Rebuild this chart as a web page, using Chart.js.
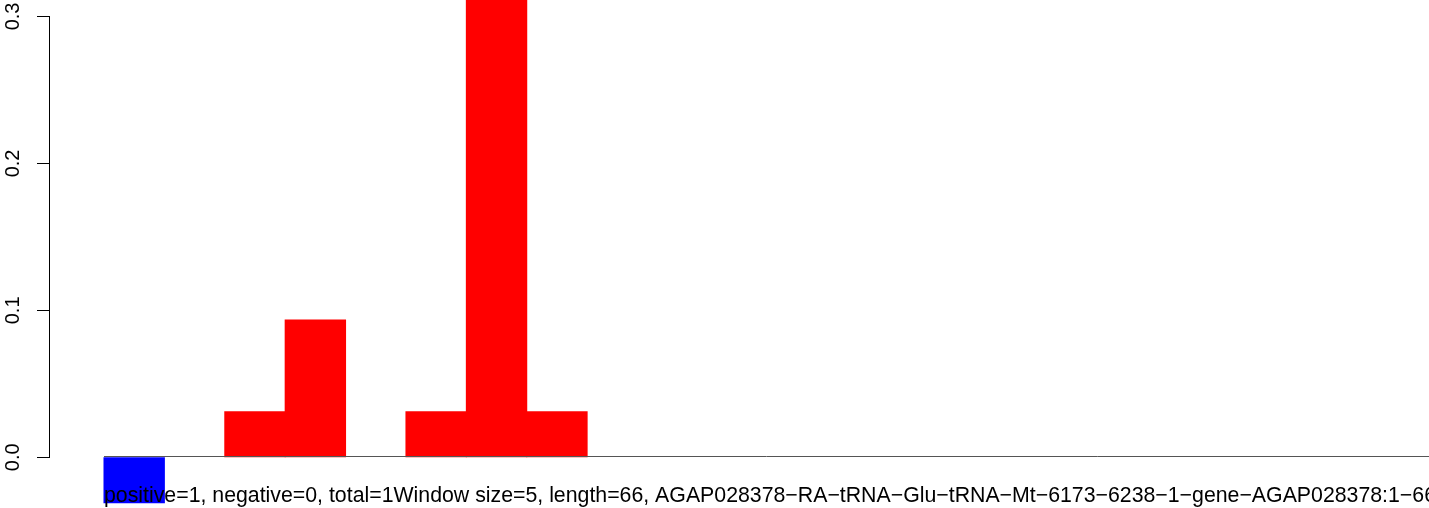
<!DOCTYPE html>
<html>
<head>
<meta charset="utf-8">
<script src="https://cdn.jsdelivr.net/npm/chart.js@4"></script>
<style>
  html, body { margin: 0; padding: 0; background: #fff; overflow: hidden; }
  #wrap { width: 1429px; height: 508px; position: relative; }
</style>
</head>
<body>
<div id="wrap"><canvas id="grafico"></canvas></div>
<script>
// bins of the window plot (left edge of each bin)
const bins = [0, 1, 2, 3, 4, 5, 6, 7, 8, 9, 10, 11, 12, 13, 14, 15, 16, 17, 18, 19, 20, 21];
// values per bin (negative = blue, positive = red)
const values = [-0.031, 0, 0.031, 0.0935, 0, 0.031, 0.34, 0.031, 0, 0, 0, 0, 0, 0, 0, 0, 0, 0, 0, 0, 0, 0];
const yTicks = [0, 0.1, 0.2, 0.3];
const caption = 'positive=1, negative=0, total=1Window size=5, length=66, AGAP028378\u2212RA\u2212tRNA\u2212Glu\u2212tRNA\u2212Mt\u22126173\u22126238\u22121\u2212gene\u2212AGAP028378:1\u221266';

const fuente = '"Liberation Sans", Arial, sans-serif';

// eje Y de R: linea solo entre 0 y 0.3, linea gris en cero y texto abajo
const extras = {
  id: 'extras',
  afterDatasetsDraw(chart) {
    const { ctx, scales: { x, y }, chartArea } = chart;
    ctx.save();
    ctx.strokeStyle = '#555555';
    ctx.lineWidth = 1;
    const y0 = Math.round(y.getPixelForValue(0)) - 0.5;
    ctx.beginPath();
    ctx.moveTo(x.getPixelForValue(0), y0);
    ctx.lineTo(chartArea.right, y0);
    ctx.stroke();
    ctx.restore();
  },
  afterDraw(chart) {
    const { ctx, scales: { x, y } } = chart;
    ctx.save();
    ctx.strokeStyle = '#000';
    ctx.lineWidth = 1;
    const ax = Math.round(y.right) - 0.5;
    ctx.beginPath();
    ctx.moveTo(ax, Math.round(y.getPixelForValue(0.3)));
    ctx.lineTo(ax, Math.round(y.getPixelForValue(0)));
    ctx.stroke();
    ctx.fillStyle = '#000';
    ctx.font = '21.3px ' + fuente;
    ctx.textBaseline = 'alphabetic';
    ctx.textAlign = 'left';
    ctx.fillText(caption, x.getPixelForValue(0), 502);
    ctx.restore();
  }
};

new Chart(document.getElementById('grafico').getContext('2d'), {
  type: 'bar',
  data: {
    datasets: [{
      data: bins.map((b, i) => ({ x: b + 0.5, y: values[i] })),
      backgroundColor: values.map(v => v < 0 ? '#0000ff' : '#ff0000'),
      borderWidth: 0,
      // sin costuras entre barras vecinas, nada para las barras en cero
      inflateAmount: c => values[c.dataIndex] === 0 ? 0 : 0.5,
      barPercentage: 1,
      categoryPercentage: 1
    }]
  },
  options: {
    responsive: true,
    maintainAspectRatio: false,
    animation: false,
    layout: { padding: 0 },
    plugins: { legend: { display: false }, tooltip: { enabled: false } },
    scales: {
      x: {
        type: 'linear',
        display: false,
        min: -0.894,
        max: 21.94,
        offset: false
      },
      y: {
        min: -0.0345,
        max: 0.3112,
        afterBuildTicks: s => { s.ticks = yTicks.map(v => ({ value: v })); },
        afterFit: s => { s.width = 50; s.paddingTop = 0; s.paddingBottom = 0; },
        border: { display: false },
        grid: { drawOnChartArea: false, tickLength: 13, color: '#000', tickColor: '#000' },
        ticks: {
          minRotation: 90,
          maxRotation: 90,
          crossAlign: 'center',
          padding: 10,
          color: '#000',
          font: { family: fuente, size: 20 },
          callback: v => v.toFixed(1)
        }
      }
    }
  },
  plugins: [extras]
});
</script>
</body>
</html>
